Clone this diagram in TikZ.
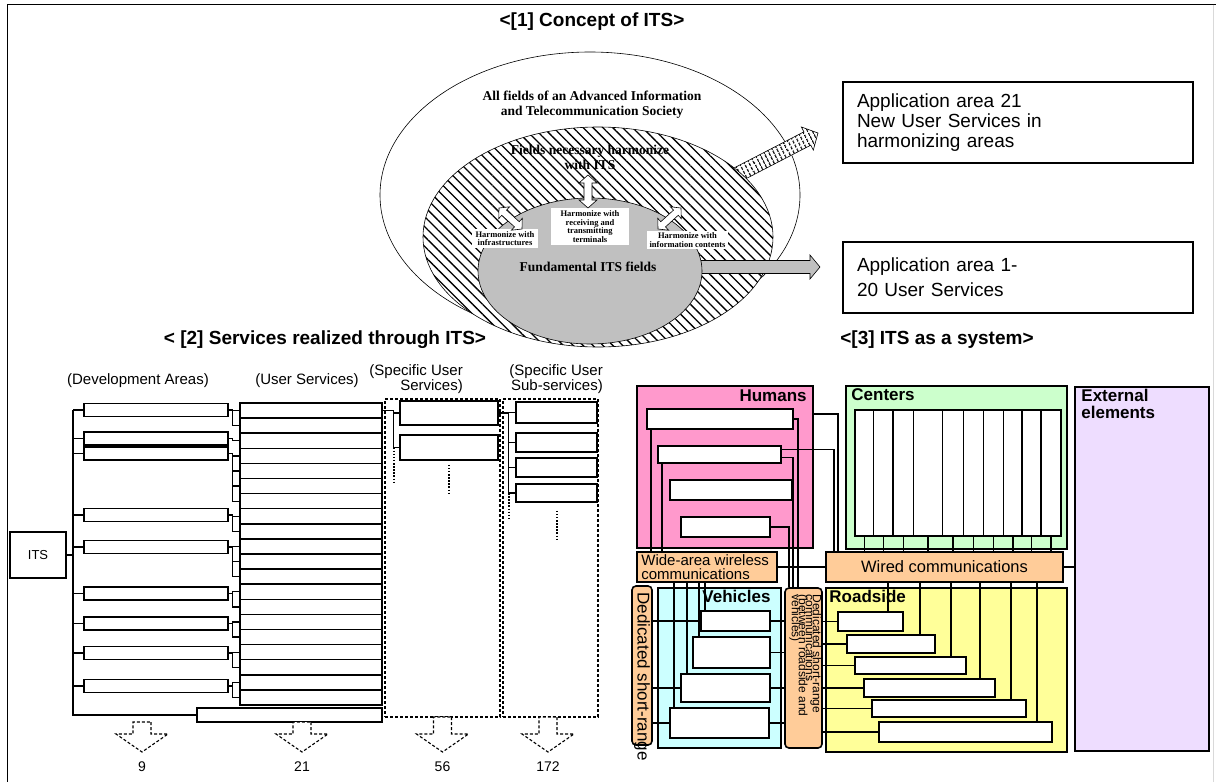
\documentclass[tikz,border=0pt]{standalone}
\usepackage{fontspec}
\setmainfont{Liberation Sans}
\newfontfamily\romanbf{Liberation Serif}
\usetikzlibrary{calc, patterns.meta, positioning}
\definecolor{cPink}{HTML}{FF99CC}
\definecolor{cMint}{HTML}{CCFFCC}
\definecolor{cLilac}{HTML}{EEDDFF}
\definecolor{cPeach}{HTML}{FFCC99}
\definecolor{cCyan}{HTML}{CCFFFF}
\definecolor{cLemon}{HTML}{FFFF99}
\definecolor{cGrey}{HTML}{C0C0C0}
\lineskiplimit=-20pt
\tikzset{
	sz/.style 2 args={minimum width=#1pt, minimum height=#2pt},
	sectitle/.style={font=\bfseries\fontsize{19}{20}\selectfont, inner sep=0pt},
	hdr/.style={font=\fontsize{15}{14.5}\selectfont, inner sep=0pt},
	numlbl/.style={font=\fontsize{14}{14}\selectfont, inner sep=0pt},
	% concept of ITS
	fieldtxt/.style={font=\romanbf\bfseries\fontsize{13.5}{15}\selectfont, align=center, inner sep=0pt},
	harmbox/.style={fill=white, inner sep=1pt, align=center, font=\romanbf\bfseries\fontsize{8.5}{8.5}\selectfont},
	appbox/.style={rectangle, draw=black, line width=1.6pt, align=left, inner xsep=14pt, text width=322pt, font=\fontsize{19}{20}\selectfont},
	thinline/.style={draw=black, line width=0.6pt},
	% services realized through ITS
	svcbox/.style={rectangle, draw=black, line width=1.5pt, fill=white, inner sep=0pt},
	colbox/.style={rectangle, draw=black, line width=1.3pt, densely dashed, inner sep=0pt},
	conn/.style={line width=1.3pt},
	dotline/.style={line width=2pt, dash pattern=on 1.5pt off 1.6pt},
	hollowarrow/.style={draw=black, fill=white, line width=1.1pt, densely dashed},
	% ITS as a system
	grpbox/.style={rectangle, draw=black, line width=1.6pt, inner sep=0pt},
	wbox/.style={rectangle, draw=black, line width=1.6pt, fill=white, inner sep=0pt},
	commbox/.style={rectangle, draw=black, line width=1.6pt, fill=cPeach, inner sep=0pt},
	grplbl/.style={font=\bfseries\fontsize{17}{17}\selectfont, inner sep=0pt},
	wire/.style={line width=1.5pt},
}
% block arrow: options, name, tail, tip, half shaft, half head, head length
\newcommand{\blockarrow}[7]{%
	\coordinate (#2n) at ($(#4)!#7!(#3)$);
	\path[#1] ($(#3)!#5!90:(#4)$) -- ($(#2n)!#5!-90:(#3)$) -- ($(#2n)!#6!-90:(#3)$) -- (#4)
		-- ($(#2n)!#6!90:(#3)$) -- ($(#2n)!#5!90:(#3)$) -- ($(#3)!#5!-90:(#4)$) -- cycle;}
% double headed block arrow
\newcommand{\dblarrow}[7]{%
	\coordinate (#2a) at ($(#3)!#7!(#4)$);
	\coordinate (#2b) at ($(#4)!#7!(#3)$);
	\path[#1] (#3) -- ($(#2a)!#6!90:(#4)$) -- ($(#2a)!#5!90:(#4)$) -- ($(#2b)!#5!-90:(#3)$) -- ($(#2b)!#6!-90:(#3)$) -- (#4)
		-- ($(#2b)!#6!90:(#3)$) -- ($(#2b)!#5!90:(#3)$) -- ($(#2a)!#5!-90:(#4)$) -- ($(#2a)!#6!-90:(#4)$) -- cycle;}

\begin{document}
\begin{tikzpicture}[x=1pt, y=-1pt]
\useasboundingbox (0,0) rectangle (1216,782);
\draw[line width=1.5pt] (7.5,782) -- (7.5,4.5) -- (1216,4.5);
\draw[black!15, line width=1pt] (1213.5,4.5) -- (1213.5,782);

% ---------- [1] Concept of ITS ----------
\node[sectitle] (t1) at (592,22) {<[1] Concept of ITS>};
\path[thinline, fill=white] (590,195) ellipse [x radius=210pt, y radius=143pt];
\node[fieldtxt] (allf) at (592,105) {All fields of an Advanced Information\\and Telecommunication Society};

\coordinate (hA) at (700,194);
\coordinate (hB) at (818,133);
\blockarrow{thinline, preaction={fill=white}, pattern={Lines[angle=117, distance=4pt, line width=1.5pt]}}{ha}{hA}{hB}{7.5pt}{13pt}{12pt}

\path[fill=white] (598,237) ellipse [x radius=175pt, y radius=110pt];
\node[fieldtxt] (harm) at (590,157) {Fields necessary harmonize\\with ITS};
\path[thinline, pattern={Lines[angle=-45, distance=7pt, line width=1.3pt]}] (598,237) ellipse [x radius=175pt, y radius=110pt];

\coordinate (gA) at (660,267);
\coordinate (gB) at (820,267);
\blockarrow{thinline, fill=cGrey}{ga}{gA}{gB}{6.5pt}{12pt}{10pt}
\path[thinline, fill=cGrey] (590,271) ellipse [x radius=112pt, y radius=73pt];
\node[fieldtxt] (fund) at (588,267) {Fundamental ITS fields};

\node[harmbox, sz={66}{19}] (hinf) at (505,238.5) {Harmonize with\\infrastructures};
\node[harmbox, sz={78}{37}] (hterm) at (590,226.5) {Harmonize with\\receiving and\\transmitting\\terminals};
\node[harmbox, sz={81}{18}] (hinfo) at (687.5,240) {Harmonize with\\information contents};
\coordinate (v1) at (588,175);
\coordinate (v2) at (588,208);
\dblarrow{thinline, fill=white}{dv}{v1}{v2}{4pt}{9pt}{8pt}
\coordinate (l1) at (499,208);
\coordinate (l2) at (522,229);
\dblarrow{thinline, fill=white}{dl}{l1}{l2}{3.5pt}{8pt}{7pt}
\coordinate (r1) at (681,208);
\coordinate (r2) at (658,229);
\dblarrow{thinline, fill=white}{dr}{r1}{r2}{3.5pt}{8pt}{7pt}

\node[appbox, minimum height=81pt] (app21) at (1018,122.5) {Application area 21\\New User Services in\\harmonizing areas};
\node[appbox, minimum height=71pt, font=\fontsize{19}{25}\selectfont] (app20) at (1018,277.5) {Application area 1-\\20 User Services};

% ---------- [2] Services realized through ITS ----------
\node[sectitle] (t2) at (325,340) {< [2] Services realized through ITS>};
\node[hdr] (hdev) at (138,381) {(Development Areas)};
\node[hdr] (hus) at (307,381) {(User Services)};
\node[hdr, align=right, anchor=east] (hss) at (463,379) {(Specific User\\Services)};
\node[hdr, align=right, anchor=east] (hsub) at (603,379) {(Specific User\\Sub-services)};

\node[svcbox, sz={56}{46}, font=\fontsize{13}{13}\selectfont] (its) at (38,555) {ITS};
\coordinate (tk) at (73,555);
\foreach \i in {1,...,20}
	\node[svcbox, sz={142}{15.1}] (us\i) at (311,{403+15.1*(\i-0.5)}) {};
\node[svcbox, sz={185}{14}] (us21) at (289.5,715) {};
\foreach \j/\y in {1/410, 2/438.5, 3/453.5, 4/515, 5/547, 6/593.5, 7/623.5, 8/653, 9/686}
	\node[svcbox, sz={144}{13}] (dev\j) at (156,\y) {};

\draw[conn] (its.east) -- (tk);
\draw[conn] (dev1.west -| tk) -- (tk |- us21.west) -- (us21.west);
\foreach \j in {1,...,9}
	\draw[conn] (dev\j.west) -- (dev\j.west -| tk);
\foreach \j/\a/\b in {1/1/2, 2/3/3, 3/4/7, 4/8/9, 5/10/12, 6/13/14, 7/15/16, 8/17/18, 9/19/20} {
	\draw[conn] (dev\j.east) -- ++(4,0) coordinate (br\j);
	\foreach \k in {\a,...,\b}
		\draw[conn] (br\j) |- (us\k.west);
}

\node[colbox, sz={115}{318}] (ssvc) at (442.5,558) {};
\node[colbox, sz={95}{318}] (ssub) at (550.5,558) {};
\node[svcbox, sz={98}{24}] (ss1) at (449,413) {};
\node[svcbox, sz={98}{25}] (ss2) at (449,447.5) {};
\foreach \m/\y/\h in {1/412.5/21, 2/442.5/19, 3/467.5/19, 4/493/18}
	\node[svcbox, sz={81}{\h}] (sb\m) at (556.5,\y) {};
\draw[conn] (us1.east) -- ++(11,0) coordinate (bk1);
\draw[conn] (bk1) |- (ss1.west);
\draw[conn] (bk1) |- (ss2.west);
\draw[dotline] (bk1 |- ss2.west) -- ++(0,35);
\draw[dotline] ([yshift=-4pt]ss2.south) -- ++(0,28);
\draw[conn] (ss1.east) -- ++(10,0) coordinate (bk2);
\foreach \m in {1,...,4}
	\draw[conn] (bk2) |- (sb\m.west);
\draw[dotline] (bk2 |- sb4.west) -- ++(0,25);
\draw[dotline] ([yshift=-8pt]sb4.south) -- ++(0,30);

\foreach \nm/\x/\ytop in {9/142/722, 21/302/722, 56/442.5/717, 172/548/717} {
	\node[numlbl] (n\nm) at (\x,767) {\nm};
	\coordinate (dA\nm) at (\x,\ytop);
	\coordinate (dB\nm) at (\x,752);
	\blockarrow{hollowarrow}{dn\nm}{dA\nm}{dB\nm}{9pt}{26pt}{18pt}
}

% ---------- [3] ITS as a system ----------
\node[sectitle] (t3) at (937,340) {<[3] ITS as a system>};

\node[grpbox, fill=cPink, sz={176}{162}] (humans) at (725,467) {};
\node[grpbox, fill=cMint, sz={221}{163}] (centers) at (956.5,467.5) {};
\node[grpbox, fill=cLilac, sz={134}{364}] (external) at (1142,569) {};
\node[grpbox, fill=cCyan, sz={123}{160}] (vehicles) at (719.5,668) {};
\node[grpbox, fill=cLemon, sz={241}{164}] (roadside) at (946.5,670) {};
\node[commbox, sz={237}{30}, font=\fontsize{16.5}{16}\selectfont] (wired) at (944.5,567) {Wired communications};
\node[commbox, sz={140}{30}] (wide) at (707,567) {};
\node[commbox, rounded corners=4pt, sz={20}{159}] (dsrcL) at (642,665.5) {};
\node[commbox, rounded corners=4pt, sz={37}{160}] (dsrcM) at (803.5,668) {};

\node[grplbl, anchor=north east] (humlbl) at ([xshift=-7pt,yshift=-4pt]humans.north east) {Humans};
\node[grplbl, anchor=north west] (cenlbl) at ([xshift=6pt,yshift=-3pt]centers.north west) {Centers};
\node[grplbl, anchor=north west, align=left] (extlbl) at ([xshift=7pt,yshift=-3pt]external.north west) {External\\elements};
\node[grplbl, anchor=north] (vehlbl) at ([xshift=17pt,yshift=-3pt]vehicles.north) {Vehicles};
\node[grplbl, anchor=north west] (rslbl) at ([xshift=4pt,yshift=-3pt]roadside.north west) {Roadside};
\node[anchor=west, align=left, inner sep=0pt, font=\fontsize{15}{14}\selectfont] (widelbl) at ([xshift=5pt]wide.west) {Wide-area wireless\\communications};
\node[rotate=-90, anchor=west, inner sep=0pt, font=\fontsize{17}{16}\selectfont] (dsrcLlbl) at ([yshift=-7pt]dsrcL.north) {Dedicated short-range};
\node[rotate=-90, anchor=north west, align=left, inner sep=0pt, font=\fontsize{12}{7}\selectfont] (dsrcMlbl) at ([xshift=-1pt,yshift=-7pt]dsrcM.north east) {Dedicated short-range\\communications\\(between roadside and\\vehicles)};

\foreach \i/\x/\y/\w/\h in {1/720/419/146/20, 2/719.5/454.5/123/17, 3/731/490/122/20, 4/725.5/527/89/20}
	\node[wbox, sz={\w}{\h}] (hum\i) at (\x,\y) {};
\foreach \k/\x/\w in {1/864.25/18.5, 2/883.25/19.5, 3/903.25/20.5, 4/928/29, 5/953/21, 6/973.5/20, 7/993.5/20, 8/1012.75/18.5, 9/1031.5/19, 10/1051/20}
	\node[wbox, sz={\w}{126}] (cen\k) at (\x,473) {};
\foreach \i/\x/\y/\w/\h in {1/870.5/621.5/65/19, 2/891/644/88/18, 3/910.5/665.5/111/17, 4/929.5/688/131/18, 5/949/708.5/154/17, 6/965.5/732/173/20}
	\node[wbox, sz={\w}{\h}] (rs\i) at (\x,\y) {};
\foreach \i/\x/\y/\w/\h in {1/735.5/621/69/20, 2/731.5/652.5/77/31, 3/725.5/688/89/28, 4/719.5/723/99/30}
	\node[wbox, sz={\w}{\h}] (veh\i) at (\x,\y) {};

% humans
\draw[wire] ([xshift=5pt]hum1.south west) -- ([xshift=5pt]hum1.south west |- wide.north);
\draw[wire] ([xshift=5pt]hum2.south west) -- ([xshift=5pt]hum2.south west |- wide.north);
\draw[wire] (hum1.east) -| ([xshift=-5.5pt]dsrcM.north);
\draw[wire] ([yshift=-3pt]hum2.east) -| ([xshift=-10.5pt]dsrcM.north);
\draw[wire] (hum4.east) -| ([xshift=-14.5pt]dsrcM.north);
\draw[wire] ([yshift=-29pt]humans.north east) -| ([xshift=13pt]wired.north west);
\draw[wire] ([yshift=5pt]hum2.east) -| ([xshift=9pt]wired.north west);
% communications
\draw[wire] (wide.east) -- (wide.east -| wired.west);
\draw[wire] (wired.east) -- (wired.east -| external.west);
\foreach \k in {1,...,10}
	\draw[wire] (cen\k.south) -- (cen\k.south |- wired.north);
\foreach \i in {1,...,6} {
	\draw[wire] ([xshift=-16pt]rs\i.north east) -- ([xshift=-16pt]rs\i.north east |- wired.south);
	\draw[wire] (rs\i.west -| dsrcM.east) -- (rs\i.west);
}
\foreach \i in {1,...,4}
	\draw[wire] (veh\i.east) -- (veh\i.east -| dsrcM.west);
\foreach \i in {1,3,4}
	\draw[wire] (veh\i.west -| dsrcL.east) -- (veh\i.west);
\foreach \i/\dx in {1/5, 2/7, 3/7, 4/5}
	\draw[wire] ([xshift=\dx pt]veh\i.north west) -- ([xshift=\dx pt]veh\i.north west |- wide.south);
\end{tikzpicture}
\end{document}
